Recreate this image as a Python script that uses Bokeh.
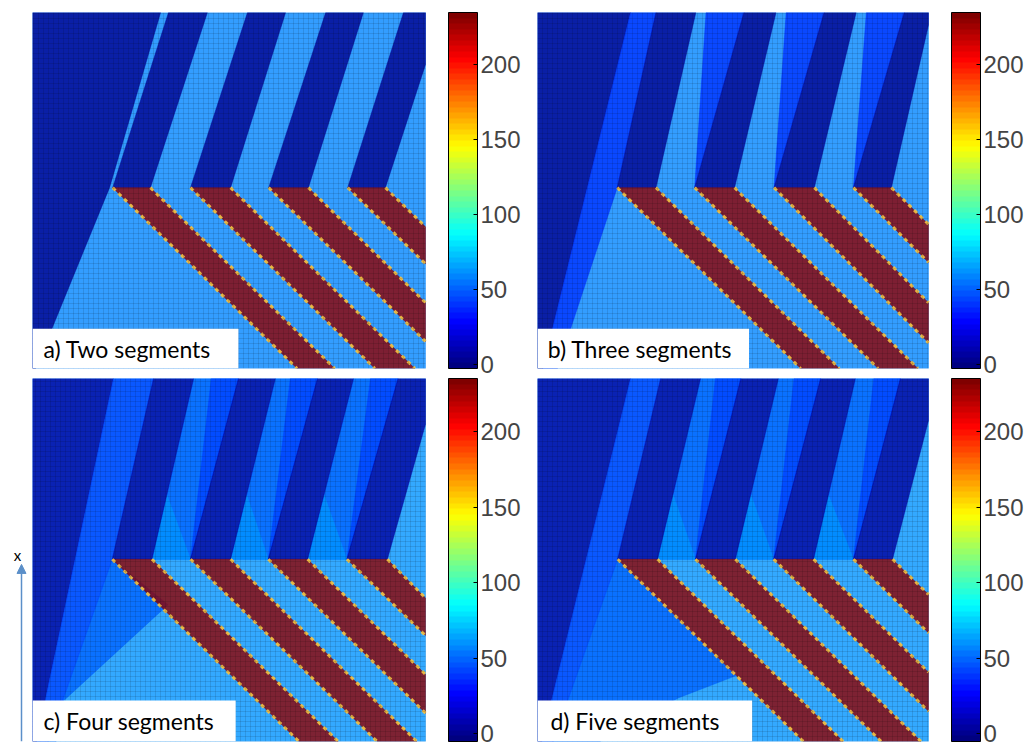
import numpy as np
from bokeh.plotting import figure
from bokeh.models import (LinearColorMapper, ColorBar, FixedTicker, BoxAnnotation,
                          Label, Arrow, NormalHead, Range1d, ColumnDataSource)
from bokeh.layouts import row, column
from bokeh.embed import file_html
from bokeh.resources import INLINE

# ---------------- data (panel coordinates 0..100 in x and y) ----------------
NAVY, MID, MID2, LIGHT, RED = 3, 40, 50, 59, 230
CB_TICKS = [0, 50, 100, 150, 200]
CB_HIGH = 235

LABELS = ["a) Two segments", "b) Three segments", "c) Four segments", "d) Five segments"]

A_XS = [[0, 100, 100, 0], [0, 0.8, 19.6, 32.6, 0],
        [20.4, 30.0, 44.5, 34.6], [40.2, 50.4, 64.4, 54.7], [60.1, 70.2, 84.2, 74.6],
        [80.2, 89.8, 100, 100, 94.4],
        [20.4, 30.0, 76.9, 67.3], [40.2, 50.4, 97.3, 87.1], [60.1, 70.2, 100, 100], [80.2, 89.8, 100, 100]]
A_YS = [[0, 0, 100, 100], [0, 0, 50.8, 100, 100],
        [50.8, 50.8, 100, 100], [50.8, 50.8, 100, 100], [50.8, 50.8, 100, 100],
        [50.8, 50.8, 85.4, 100, 100],
        [50.8, 50.8, 0, 0], [50.8, 50.8, 0, 0], [50.8, 50.8, 18.5, 7.6], [50.8, 50.8, 39.8, 29.4]]
A_VALS = [LIGHT, NAVY, NAVY, NAVY, NAVY, NAVY, RED, RED, RED, RED]

B_XS = [[0, 100, 100, 0], [0, 1.3, 23.8, 0], [1.3, 5.1, 20.4, 30.3, 23.8],
        [43.1, 52.8, 40.2], [63.6, 73.3, 60.5], [84.1, 93.8, 80.8],
        [20.4, 30.3, 40.5, 30.3], [40.2, 50.4, 61.0, 52.8], [60.5, 70.8, 81.5, 73.3],
        [80.8, 90.5, 100, 100, 93.8],
        [20.4, 30.3, 77.2, 67.3], [40.2, 50.4, 97.3, 87.1], [60.5, 70.8, 100, 100], [80.8, 90.5, 100, 100]]
B_YS = [[0, 0, 100, 100], [0, 0, 100, 100], [0, 0, 50.8, 100, 100],
        [100, 100, 50.8], [100, 100, 50.8], [100, 100, 50.8],
        [50.8, 50.8, 100, 100], [50.8, 50.8, 100, 100], [50.8, 50.8, 100, 100],
        [50.8, 50.8, 96.5, 100, 100],
        [50.8, 50.8, 0, 0], [50.8, 50.8, 0, 0], [50.8, 50.8, 18.5, 7.2], [50.8, 50.8, 40.5, 29.8]]
B_VALS = [LIGHT, NAVY, MID, MID, MID, MID, NAVY, NAVY, NAVY, NAVY, RED, RED, RED, RED]

C_XS = [[0, 100, 100, 0], [4.0, 6.0, 8.0, 34.5, 20.3], [0, 1.0, 20.6, 0], [1.0, 4.0, 20.3, 30.8, 20.6],
        [30.4, 40.2, 52.4, 41.0], [50.4, 60.0, 72.5, 61.8], [70.0, 80.0, 93.0, 81.7],
        [30.4, 40.2, 34.2], [50.4, 60.0, 54.5], [70.0, 80.0, 74.2],
        [45.5, 52.4, 40.2], [65.6, 72.5, 60.0], [86.0, 93.0, 80.0],
        [20.3, 30.4, 41.0, 30.8], [40.2, 50.4, 61.8, 52.4], [60.0, 70.0, 81.7, 72.5],
        [80.0, 90.3, 100, 100, 93.0],
        [20.3, 30.4, 77.8, 67.8], [40.2, 50.4, 97.8, 87.7], [60.0, 70.0, 100, 100], [80.0, 90.3, 100, 100]]
C_YS = [[0, 0, 100, 100], [0, 0, 11.3, 37.7, 50.2], [0, 0, 100, 100], [0, 0, 50.2, 100, 100],
        [50.2, 50.2, 100, 100], [50.2, 50.2, 100, 100], [50.2, 50.2, 100, 100],
        [50.2, 50.2, 68], [50.2, 50.2, 68], [50.2, 50.2, 68],
        [100, 100, 50.2], [100, 100, 50.2], [100, 100, 50.2],
        [50.2, 50.2, 100, 100], [50.2, 50.2, 100, 100], [50.2, 50.2, 100, 100],
        [50.2, 50.2, 87.4, 100, 100],
        [50.2, 50.2, 0, 0], [50.2, 50.2, 0, 0], [50.2, 50.2, 18.5, 7.8], [50.2, 50.2, 39.5, 29.2]]
C_VALS = [LIGHT, MID2, NAVY, MID, MID2, MID2, MID2, LIGHT, LIGHT, LIGHT, MID, MID, MID,
          NAVY, NAVY, NAVY, NAVY, RED, RED, RED, RED]

D_XS = [[0, 100, 100, 0], [4.0, 16.0, 36.0, 50.7, 20.5], [0, 1.0, 23.8, 0], [1.0, 4.0, 20.5, 31.5, 23.8],
        [30.7, 40.4, 52.0, 41.7], [50.6, 60.4, 72.4, 61.6], [70.6, 80.8, 92.8, 81.3],
        [30.7, 40.4, 34.7], [50.6, 60.4, 54.6], [70.6, 80.8, 74.4],
        [45.5, 52.0, 40.4], [65.6, 72.4, 60.4], [86.0, 92.8, 80.8],
        [20.5, 30.7, 41.7, 31.5], [40.4, 50.6, 61.6, 52.0], [60.4, 70.6, 81.3, 72.4],
        [80.8, 90.8, 100, 100, 92.8],
        [20.5, 30.7, 78.2, 68.0], [40.4, 50.6, 98.1, 87.9], [60.4, 70.6, 100, 100], [80.8, 90.8, 100, 100]]
D_YS = [[0, 0, 100, 100], [0, 0, 12.0, 18.1, 50.2], [0, 0, 100, 100], [0, 0, 50.2, 100, 100],
        [50.2, 50.2, 100, 100], [50.2, 50.2, 100, 100], [50.2, 50.2, 100, 100],
        [50.2, 50.2, 68], [50.2, 50.2, 68], [50.2, 50.2, 68],
        [100, 100, 50.2], [100, 100, 50.2], [100, 100, 50.2],
        [50.2, 50.2, 100, 100], [50.2, 50.2, 100, 100], [50.2, 50.2, 100, 100],
        [50.2, 50.2, 88.4, 100, 100],
        [50.2, 50.2, 0, 0], [50.2, 50.2, 0, 0], [50.2, 50.2, 19.1, 8.3], [50.2, 50.2, 40.5, 29.9]]
D_VALS = [LIGHT, MID2, NAVY, MID, MID2, MID2, MID2, LIGHT, LIGHT, LIGHT, MID, MID, MID,
          NAVY, NAVY, NAVY, NAVY, RED, RED, RED, RED]

PANELS = [(A_XS, A_YS, A_VALS), (B_XS, B_YS, B_VALS), (C_XS, C_YS, C_VALS), (D_XS, D_YS, D_VALS)]


# ---------------- palette (MATLAB jet, 64 steps) ----------------
def jet(n=64):
    t = np.linspace(0, 1, n)
    r = np.clip(np.minimum(4 * t - 1.5, -4 * t + 4.5), 0, 1)
    g = np.clip(np.minimum(4 * t - 0.5, -4 * t + 3.5), 0, 1)
    b = np.clip(np.minimum(4 * t + 0.5, -4 * t + 2.5), 0, 1)
    return ["#%02x%02x%02x" % (int(round(255 * a)), int(round(255 * c)), int(round(255 * d)))
            for a, c, d in zip(r, g, b)]


JET = jet(64)
MAP_TOP = LinearColorMapper(palette=JET, low=-3, high=CB_HIGH)
MAP_BOT = LinearColorMapper(palette=JET, low=-5, high=CB_HIGH)

# layout: (fig width, fig height, border left, border top, border bottom, heat width px, frame width px)
LAYOUT = [
    (524, 378, 32, 12, 10, 393, 416),
    (512, 378, 13, 12, 10, 391, 414),
    (492, 369, 0, 0, 6, 393, 416),
    (512, 369, 13, 0, 6, 391, 414),
]
BOXES = [(52.4, 11.2, 2.8), (54.1, 11.2, 2.6), (51.7, 11.3, 2.8), (54.9, 11.3, 3.3)]


def make_panel(i):
    xs, ys, vals = PANELS[i]
    mapper = MAP_TOP if i < 2 else MAP_BOT
    W, H, bl, bt, bb, heat_w, frame_w = LAYOUT[i]
    br = W - bl - frame_w
    frame_h = H - bt - bb
    p = figure(width=W, height=H, x_range=Range1d(0, 100.0 * frame_w / heat_w), y_range=Range1d(0, 100),
               toolbar_location=None, output_backend="svg", x_axis_location=None, y_axis_location=None,
               min_border_left=bl, min_border_right=br, min_border_top=bt, min_border_bottom=bb)
    p.grid.grid_line_color = None
    p.outline_line_color = None
    p.background_fill_color = "white"
    p.border_fill_color = "white"

    src = ColumnDataSource(dict(xs=xs, ys=ys, v=vals))
    p.patches("xs", "ys", source=src, fill_color={"field": "v", "transform": mapper},
              fill_alpha=0.8, line_color={"field": "v", "transform": mapper}, line_alpha=0.8, line_width=0.5)

    # staircase-coloured edges of the red stripes
    ex, ey = [], []
    for x, y, v in zip(xs, ys, vals):
        if v == RED:
            ex += [[x[0], x[3]], [x[1], x[2]]]
            ey += [[y[0], y[3]], [y[1], y[2]]]
    p.multi_line(ex, ey, line_color="#f5c342", line_width=3, line_dash="4 4", line_alpha=0.9)

    # cell texture
    p.add_layout(BoxAnnotation(left=0, right=100, bottom=0, top=100, fill_alpha=0, line_alpha=0,
                               hatch_pattern="+", hatch_scale=5, hatch_weight=0.7,
                               hatch_color="black", hatch_alpha=0.16))

    bw, bh, tx = BOXES[i]
    p.add_layout(BoxAnnotation(left=0, right=bw, bottom=0, top=bh, fill_color="white",
                               fill_alpha=1, line_color=None))
    p.add_layout(Label(x=tx, y=bh / 2, text=LABELS[i], text_baseline="middle", text_font="Lato",
                       text_font_size="23px", text_color="black"))

    cb = ColorBar(color_mapper=mapper, ticker=FixedTicker(ticks=CB_TICKS), width=29, height=frame_h,
                  margin=0, padding=0, label_standoff=3, major_label_text_font="Liberation Sans",
                  major_label_text_font_size="24px", major_tick_line_color="black", major_tick_in=4,
                  major_tick_out=0, minor_tick_line_color=None, bar_line_color="black",
                  background_fill_color=None, border_line_color=None)
    p.add_layout(cb, "right")
    return p


pa, pb, pc, pd = [make_panel(i) for i in range(4)]

# the "x" direction arrow left of panel c (its own small canvas, in pixel-like units)
pax = figure(width=32, height=369, x_range=Range1d(0, 32), y_range=Range1d(0, 369),
             toolbar_location=None, output_backend="svg", x_axis_location=None, y_axis_location=None,
             min_border_left=0, min_border_right=0, min_border_top=0, min_border_bottom=0)
pax.grid.grid_line_color = None
pax.outline_line_color = None
pax.add_layout(Arrow(x_start=21, y_start=0, x_end=21, y_end=180, line_color="#5b8fc9", line_width=1.5,
                     end=NormalHead(size=9, fill_color="#5b8fc9", line_color="#5b8fc9")))
pax.add_layout(Label(x=17, y=190, text="x", text_align="center", text_baseline="middle",
                     text_font="Lato", text_font_size="15px", text_color="black"))

layout = column(row(pa, pb), row(pax, pc, pd))
open("out.html", "w").write(file_html(layout, INLINE))
